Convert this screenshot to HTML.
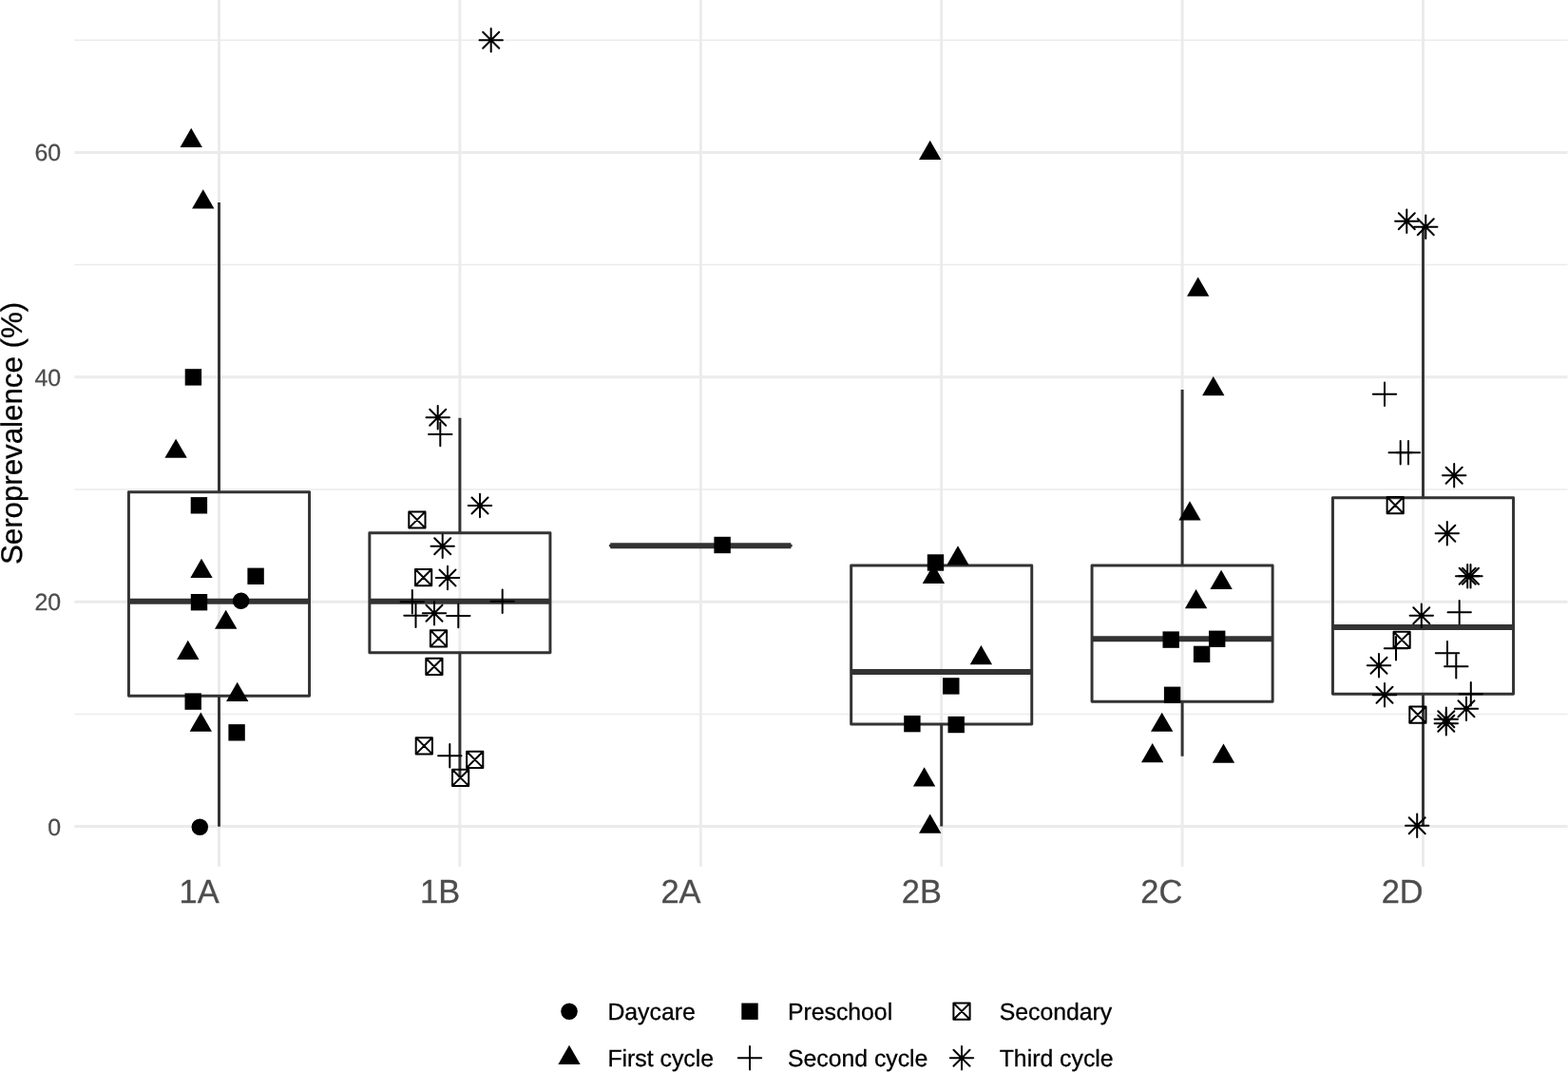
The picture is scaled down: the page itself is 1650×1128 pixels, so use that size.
<!DOCTYPE html>
<html lang="en"><head><meta charset="utf-8"><title>Seroprevalence (%) by school cluster</title>
<style>
html,body{margin:0;padding:0;background:#fff;}
body{width:1650px;height:1128px;overflow:hidden;}
svg{display:block;}
text{font-family:"Liberation Sans",Arial,Helvetica,sans-serif;text-rendering:geometricPrecision;}
.gmaj{stroke:#ebebeb;stroke-width:2.96;fill:none;}
.gmin{stroke:#ebebeb;stroke-width:1.48;fill:none;}
.box{stroke:#333333;stroke-width:2.96;fill:none;stroke-linejoin:round;}
.wh{stroke:#333333;stroke-width:2.96;fill:none;}
.med{stroke:#333333;stroke-width:5.93;fill:none;}
.pts{fill:#000;}
.pts .l{fill:none;stroke:#000;stroke-width:2;stroke-linecap:round;stroke-linejoin:round;}
.ay{font-size:24.93px;fill:#4d4d4d;stroke:#4d4d4d;stroke-width:0.25px;text-anchor:end;}
.ax{font-size:34.4px;fill:#4d4d4d;stroke:#4d4d4d;stroke-width:0.3px;text-anchor:end;}
.ttl{font-size:31.26px;fill:#000;stroke:#000;stroke-width:0.3px;text-anchor:middle;}
.lg{font-size:24.81px;fill:#000;stroke:#000;stroke-width:0.3px;}
</style></head><body>
<svg width="1650" height="1128" viewBox="0 0 1650 1128" role="img" aria-label="Seroprevalence boxplot">
<rect width="1650" height="1128" fill="#fff"/>
<g class="gmin">
<path d="M78.3 751.4H1649.5"/>
<path d="M78.3 515H1649.5"/>
<path d="M78.3 278.6H1649.5"/>
<path d="M78.3 42.2H1649.5"/>
</g>
<g class="gmaj">
<path d="M78.3 869.6H1649.5"/>
<path d="M78.3 633.2H1649.5"/>
<path d="M78.3 396.8H1649.5"/>
<path d="M78.3 160.4H1649.5"/>
<path d="M230.5 0V911.7"/>
<path d="M483.9 0V911.7"/>
<path d="M737.3 0V911.7"/>
<path d="M990.7 0V911.7"/>
<path d="M1244.1 0V911.7"/>
<path d="M1497.5 0V911.7"/>
</g>
<g>
<path class="wh" d="M230.5 213V517.8M230.5 732.3V869.8"/>
<path class="box" d="M135.45 517.8H325.55V732.3H135.45Z"/>
<path class="med" d="M135.45 632.8H325.55"/>
<path class="wh" d="M483.9 439.8V560.7M483.9 686.7V818.3"/>
<path class="box" d="M388.85 560.7H578.95V686.7H388.85Z"/>
<path class="med" d="M388.85 632.8H578.95"/>
<path class="box" d="M642.25 574.2H832.35V574.2H642.25Z"/>
<path class="med" d="M642.25 574.2H832.35"/>
<path class="wh" d="M990.7 587.8V595M990.7 762V869.6"/>
<path class="box" d="M895.65 595H1085.75V762H895.65Z"/>
<path class="med" d="M895.65 707H1085.75"/>
<path class="wh" d="M1244.1 410V595M1244.1 738.3V795.8"/>
<path class="box" d="M1149.05 595H1339.15V738.3H1149.05Z"/>
<path class="med" d="M1149.05 672.3H1339.15"/>
<path class="wh" d="M1497.5 238.8V523.8M1497.5 730.3V869.2"/>
<path class="box" d="M1402.45 523.8H1592.55V730.3H1402.45Z"/>
<path class="med" d="M1402.45 660H1592.55"/>
</g>
<g class="pts">
<path d="M201.2 134.73L212.87 154.94L189.53 154.94Z"/>
<path d="M213.75 199.23L225.42 219.44L202.08 219.44Z"/>
<rect x="194.7" y="388.2" width="17.4" height="17.4"/>
<path d="M185.1 461.63L196.77 481.84L173.43 481.84Z"/>
<rect x="200.7" y="523.1" width="17.4" height="17.4"/>
<path d="M212 587.83L223.67 608.04L200.33 608.04Z"/>
<rect x="260.4" y="597.6" width="17.4" height="17.4"/>
<rect x="200.8" y="625" width="17.4" height="17.4"/>
<circle cx="253.6" cy="632.3" r="8.75"/>
<path d="M237.7 641.63L249.37 661.84L226.03 661.84Z"/>
<path d="M197.8 673.73L209.47 693.94L186.13 693.94Z"/>
<path d="M249.7 717.83L261.37 738.04L238.03 738.04Z"/>
<rect x="194.5" y="729.4" width="17.4" height="17.4"/>
<path d="M211.3 749.43L222.97 769.64L199.63 769.64Z"/>
<rect x="240.4" y="762.1" width="17.4" height="17.4"/>
<circle cx="210.3" cy="870.3" r="8.75"/>
<path class="l" d="M504.5 42.2H528.9M516.7 30V54.4M508.2 33.7L525.2 50.7M508.2 50.7L525.2 33.7"/>
<path class="l" d="M448.5 439.3H472.9M460.7 427.1V451.5M452.2 430.8L469.2 447.8M452.2 447.8L469.2 430.8"/>
<path class="l" d="M451.1 457H475.5M463.3 444.8V469.2"/>
<path class="l" d="M492.8 532H517.2M505 519.8V544.2M496.5 523.5L513.5 540.5M496.5 540.5L513.5 523.5"/>
<path class="l" d="M430.3 538.4H447.5V555.6H430.3ZM430.3 538.4L447.5 555.6M430.3 555.6L447.5 538.4"/>
<path class="l" d="M453.5 574.7H477.9M465.7 562.5V586.9M457.2 566.2L474.2 583.2M457.2 583.2L474.2 566.2"/>
<path class="l" d="M437 599H454.2V616.2H437ZM437 599L454.2 616.2M437 616.2L454.2 599"/>
<path class="l" d="M458.8 608H483.2M471 595.8V620.2M462.5 599.5L479.5 616.5M462.5 616.5L479.5 599.5"/>
<path class="l" d="M421.6 633.3H446M433.8 621.1V645.5"/>
<path class="l" d="M516.5 632.8H540.9M528.7 620.6V645"/>
<path class="l" d="M425.3 647.8H449.7M437.5 635.6V660"/>
<path class="l" d="M444.8 645.3H469.2M457 633.1V657.5M448.5 636.8L465.5 653.8M448.5 653.8L465.5 636.8"/>
<path class="l" d="M470.1 648H494.5M482.3 635.8V660.2"/>
<path class="l" d="M452.9 663.2H470.1V680.4H452.9ZM452.9 663.2L470.1 680.4M452.9 680.4L470.1 663.2"/>
<path class="l" d="M448.3 692.8H465.5V710H448.3ZM448.3 692.8L465.5 710M448.3 710L465.5 692.8"/>
<path class="l" d="M437.7 776.2H454.9V793.4H437.7ZM437.7 776.2L454.9 793.4M437.7 793.4L454.9 776.2"/>
<path class="l" d="M461.1 795.3H485.5M473.3 783.1V807.5"/>
<path class="l" d="M491.1 790.7H508.3V807.9H491.1ZM491.1 790.7L508.3 807.9M491.1 807.9L508.3 790.7"/>
<path class="l" d="M476 809.7H493.2V826.9H476ZM476 809.7L493.2 826.9M476 826.9L493.2 809.7"/>
<rect x="751.4" y="564.8" width="17.4" height="17.4"/>
<path d="M978.7 147.73L990.37 167.94L967.03 167.94Z"/>
<path d="M982.4 593.73L994.07 613.94L970.73 613.94Z"/>
<rect x="975.8" y="583.3" width="17.4" height="17.4"/>
<path d="M1008 574.33L1019.67 594.54L996.33 594.54Z"/>
<path d="M1032.4 679.03L1044.07 699.24L1020.73 699.24Z"/>
<rect x="992.1" y="713.2" width="17.4" height="17.4"/>
<rect x="951.2" y="752.9" width="17.4" height="17.4"/>
<rect x="997.5" y="753.8" width="17.4" height="17.4"/>
<path d="M972.6 807.33L984.27 827.54L960.93 827.54Z"/>
<path d="M978.7 856.53L990.37 876.74L967.03 876.74Z"/>
<path d="M1260.7 291.53L1272.37 311.74L1249.03 311.74Z"/>
<path d="M1276.8 396.03L1288.47 416.24L1265.13 416.24Z"/>
<path d="M1252 527.33L1263.67 547.54L1240.33 547.54Z"/>
<path d="M1285.1 599.73L1296.77 619.94L1273.43 619.94Z"/>
<path d="M1258.6 619.93L1270.27 640.14L1246.93 640.14Z"/>
<rect x="1223.5" y="664.4" width="17.4" height="17.4"/>
<rect x="1272" y="663.6" width="17.4" height="17.4"/>
<rect x="1255.9" y="679.7" width="17.4" height="17.4"/>
<rect x="1224.9" y="722.6" width="17.4" height="17.4"/>
<path d="M1222.7 749.63L1234.37 769.84L1211.03 769.84Z"/>
<path d="M1212.7 781.93L1224.37 802.14L1201.03 802.14Z"/>
<path d="M1287.5 782.53L1299.17 802.74L1275.83 802.74Z"/>
<path class="l" d="M1468.1 232.8H1492.5M1480.3 220.6V245M1471.8 224.3L1488.8 241.3M1471.8 241.3L1488.8 224.3"/>
<path class="l" d="M1488.1 238.8H1512.5M1500.3 226.6V251M1491.8 230.3L1508.8 247.3M1491.8 247.3L1508.8 230.3"/>
<path class="l" d="M1444.8 414.7H1469.2M1457 402.5V426.9"/>
<path class="l" d="M1461.5 476.2H1485.9M1473.7 464V488.4"/>
<path class="l" d="M1469.8 476.2H1494.2M1482 464V488.4"/>
<path class="l" d="M1518 500.2H1542.4M1530.2 488V512.4M1521.7 491.7L1538.7 508.7M1521.7 508.7L1538.7 491.7"/>
<path class="l" d="M1459.6 523H1476.8V540.2H1459.6ZM1459.6 523L1476.8 540.2M1459.6 540.2L1476.8 523"/>
<path class="l" d="M1510.6 561.2H1535M1522.8 549V573.4M1514.3 552.7L1531.3 569.7M1514.3 569.7L1531.3 552.7"/>
<path class="l" d="M1532 606.3H1556.4M1544.2 594.1V618.5M1535.7 597.8L1552.7 614.8M1535.7 614.8L1552.7 597.8"/>
<path class="l" d="M1535.3 606.3H1559.7M1547.5 594.1V618.5M1539 597.8L1556 614.8M1539 614.8L1556 597.8"/>
<path class="l" d="M1483.6 647.8H1508M1495.8 635.6V660M1487.3 639.3L1504.3 656.3M1487.3 656.3L1504.3 639.3"/>
<path class="l" d="M1523.5 644.3H1547.9M1535.7 632.1V656.5"/>
<path class="l" d="M1466.5 664.7H1483.7V681.9H1466.5ZM1466.5 664.7L1483.7 681.9M1466.5 681.9L1483.7 664.7"/>
<path class="l" d="M1456.8 682.2H1481.2M1469 670V694.4"/>
<path class="l" d="M1510.8 687.2H1535.2M1523 675V699.4"/>
<path class="l" d="M1520.1 701.3H1544.5M1532.3 689.1V713.5"/>
<path class="l" d="M1438.8 700.3H1463.2M1451 688.1V712.5M1442.5 691.8L1459.5 708.8M1442.5 708.8L1459.5 691.8"/>
<path class="l" d="M1444.8 731.3H1469.2M1457 719.1V743.5M1448.5 722.8L1465.5 739.8M1448.5 739.8L1465.5 722.8"/>
<path class="l" d="M1535.6 730.3H1560M1547.8 718.1V742.5"/>
<path class="l" d="M1530.8 745.7H1555.2M1543 733.5V757.9M1534.5 737.2L1551.5 754.2M1534.5 754.2L1551.5 737.2"/>
<path class="l" d="M1483.3 743.5H1500.5V760.7H1483.3ZM1483.3 743.5L1500.5 760.7M1483.3 760.7L1500.5 743.5"/>
<path class="l" d="M1509.6 756.7H1534M1521.8 744.5V768.9M1513.3 748.2L1530.3 765.2M1513.3 765.2L1530.3 748.2"/>
<path class="l" d="M1509.6 761.2H1534M1521.8 749V773.4M1513.3 752.7L1530.3 769.7M1513.3 769.7L1530.3 752.7"/>
<path class="l" d="M1479 868.8H1503.4M1491.2 856.6V881M1482.7 860.3L1499.7 877.3M1482.7 877.3L1499.7 860.3"/>
</g>
<g class="ay">
<text transform="translate(64.2 878.6) scale(1 1.0)">0</text>
<text transform="translate(64.2 642.2) scale(1 1.0)">20</text>
<text transform="translate(64.2 405.8) scale(1 1.0)">40</text>
<text transform="translate(64.2 169.4) scale(1 1.0)">60</text>
</g>
<g class="ax">
<text transform="translate(230.7 950) scale(1 1.014)">1A</text>
<text transform="translate(484.1 950) scale(1 1.014)">1B</text>
<text transform="translate(737.5 950) scale(1 1.014)">2A</text>
<text transform="translate(990.9 950) scale(1 1.014)">2B</text>
<text transform="translate(1244.3 950) scale(1 1.014)">2C</text>
<text transform="translate(1497.7 950) scale(1 1.014)">2D</text>
</g>
<text class="ttl" transform="translate(22.8 456) rotate(-90)">Seroprevalence (%)</text>
<g class="pts">
<circle cx="599" cy="1064.2" r="8.75"/>
<rect x="780.3" y="1055.5" width="17.4" height="17.4"/>
<path class="l" d="M1003.4 1055.6H1020.6V1072.8H1003.4ZM1003.4 1055.6L1020.6 1072.8M1003.4 1072.8L1020.6 1055.6"/>
<path d="M599 1099.83L610.67 1120.04L587.33 1120.04Z"/>
<path class="l" d="M776.8 1113.3H801.2M789 1101.1V1125.5"/>
<path class="l" d="M999.8 1113.3H1024.2M1012 1101.1V1125.5M1003.5 1104.8L1020.5 1121.8M1003.5 1121.8L1020.5 1104.8"/>
</g>
<g class="lg">
<text transform="translate(639.4 1072.5) scale(1 1.002)">Daycare</text>
<text transform="translate(828.9 1072.5) scale(1 1.002)">Preschool</text>
<text transform="translate(1051.7 1072.5) scale(1 1.002)">Secondary</text>
<text transform="translate(639.4 1121.6) scale(1 1.002)">First cycle</text>
<text transform="translate(828.9 1121.6) scale(1 1.002)">Second cycle</text>
<text transform="translate(1051.7 1121.6) scale(1 1.002)">Third cycle</text>
</g>
</svg>
</body></html>
